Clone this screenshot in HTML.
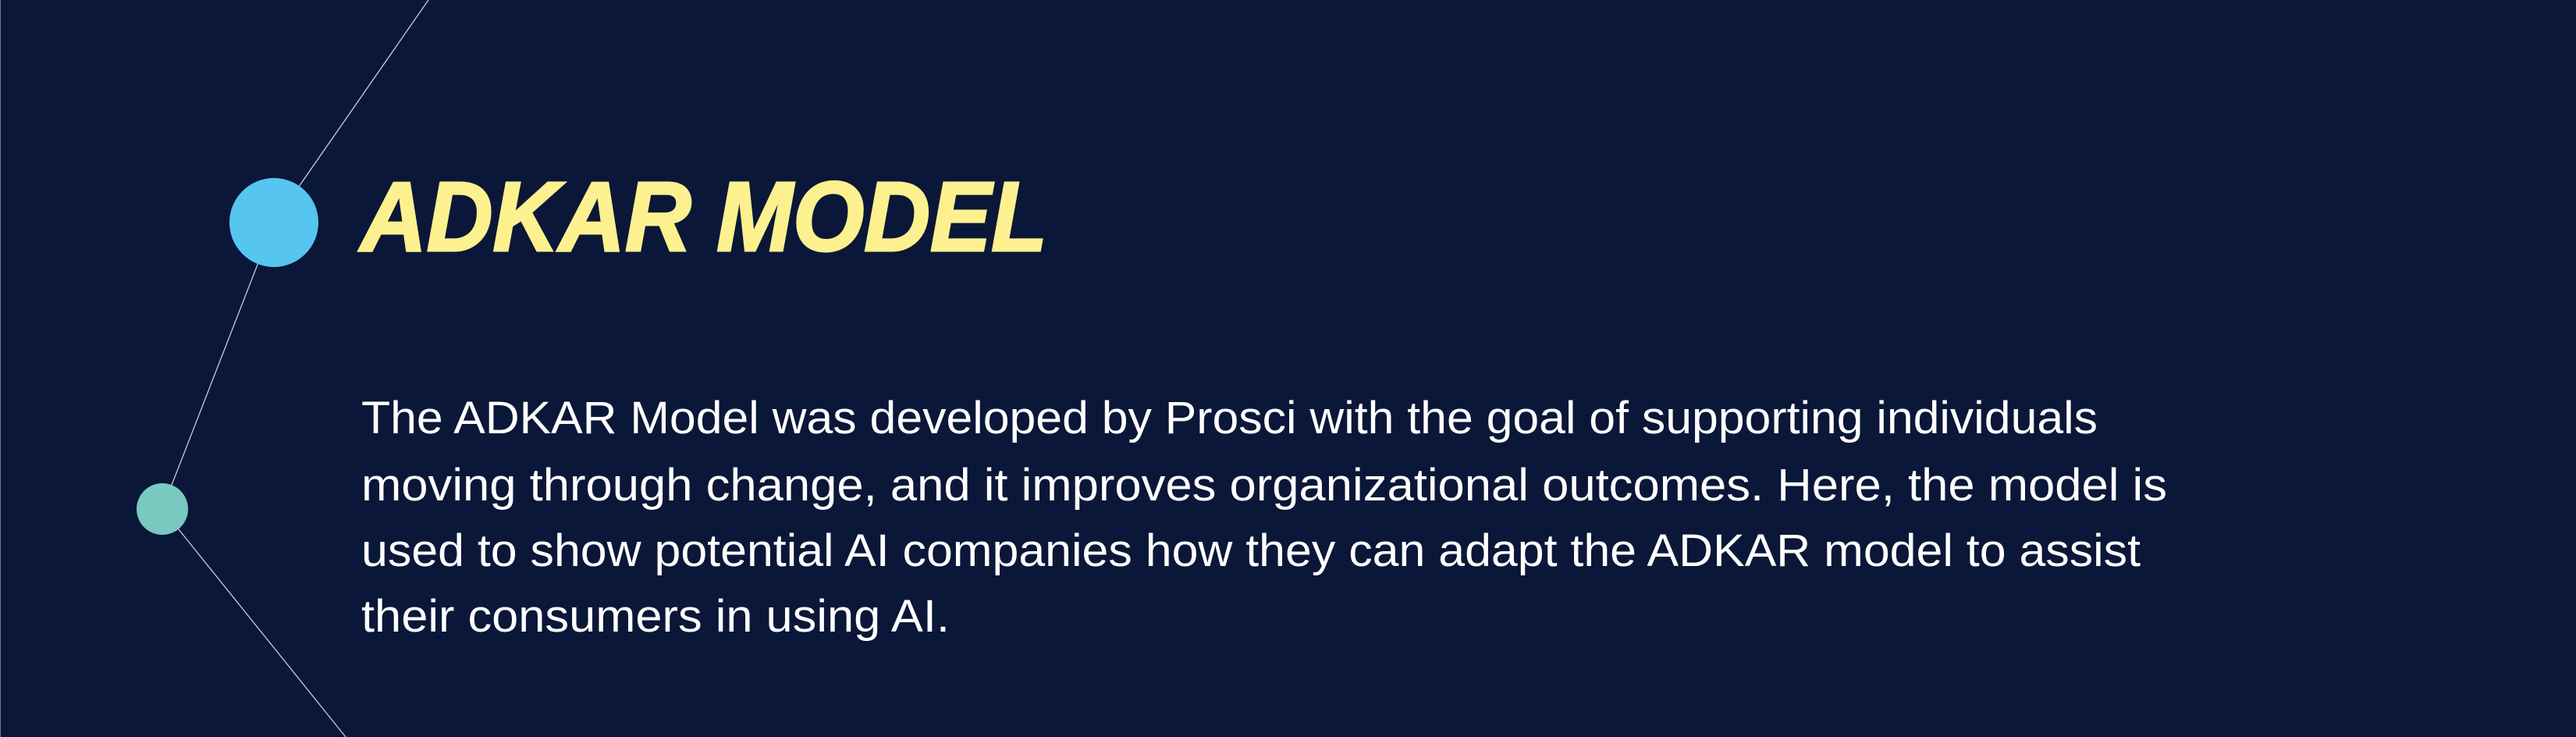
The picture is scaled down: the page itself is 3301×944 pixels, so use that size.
<!DOCTYPE html>
<html><head><meta charset="utf-8"><style>
html,body{margin:0;padding:0;background:#0b1738;}
svg{display:block;}
</style></head><body>
<svg width="3301" height="944" viewBox="0 0 3301 944">
<rect x="0" y="0" width="3301" height="944" fill="#0b1738"/>
<line x1="0.5" y1="0" x2="0.5" y2="944" stroke="#6b7390" stroke-width="1"/>
<polyline points="549,0 351,285 208,652 443,944" fill="none" stroke="#c8ccd8" stroke-width="1.3"/>
<circle cx="351" cy="285" r="57" fill="#56c5f0"/>
<circle cx="208" cy="652" r="33" fill="#79c9c0"/>
<text x="462" y="321" font-family="Liberation Sans, sans-serif" font-weight="bold" font-style="italic" font-size="126" fill="#fdf18f" stroke="#fdf18f" stroke-width="3" textLength="880" lengthAdjust="spacingAndGlyphs">ADKAR MODEL</text>
<g font-family="Liberation Sans, sans-serif" font-size="58" fill="#ffffff">
<text x="463" y="555" textLength="2225" lengthAdjust="spacingAndGlyphs">The ADKAR Model was developed by Prosci with the goal of supporting individuals</text>
<text x="463" y="641" textLength="2314" lengthAdjust="spacingAndGlyphs">moving through change, and it improves organizational outcomes. Here, the model is</text>
<text x="463" y="725" textLength="2280" lengthAdjust="spacingAndGlyphs">used to show potential AI companies how they can adapt the ADKAR model to assist</text>
<text x="463" y="809" textLength="754" lengthAdjust="spacingAndGlyphs">their consumers in using AI.</text>
</g>
</svg>
</body></html>
